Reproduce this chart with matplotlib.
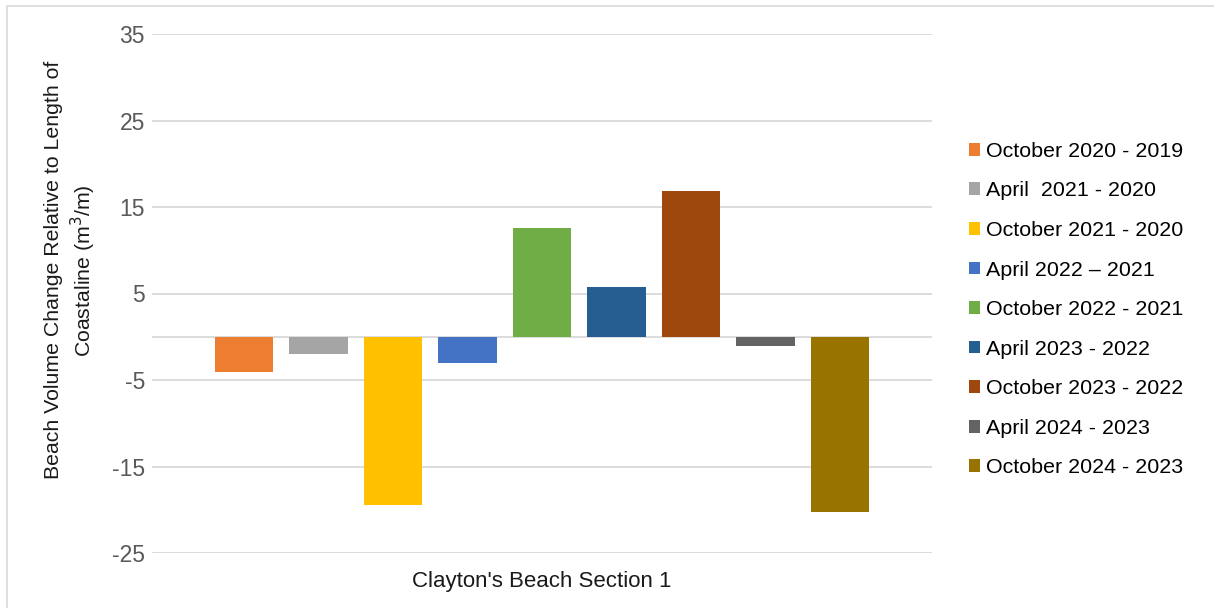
import matplotlib.pyplot as plt
from matplotlib.patches import Rectangle

plt.rcParams['font.family'] = ['Liberation Sans', 'DejaVu Sans']

# Beach volume change per survey interval (m3/m)
periods = [
    "October 2020 - 2019",
    "April  2021 - 2020",
    "October 2021 - 2020",
    "April 2022 \u2013 2021",
    "October 2022 - 2021",
    "April 2023 - 2022",
    "October 2023 - 2022",
    "April 2024 - 2023",
    "October 2024 - 2023",
]
volume_change = [-4.05, -1.95, -19.45, -3.0, 12.6, 5.7, 16.9, -1.1, -20.25]
colors = ["#ED7D31", "#A5A5A5", "#FFC000", "#4472C4", "#70AD47",
          "#255E91", "#9E480E", "#636363", "#997300"]
y_ticks = [-25, -15, -5, 5, 15, 25, 35]

fig = plt.figure(figsize=(12.14, 6.08), dpi=100)
ax = fig.add_axes([152 / 1214, 1 - 553 / 608, 780 / 1214, 519 / 608])

# Light frame around the chart area
fig.patches.append(Rectangle((6.5 / 1214, -0.05), 1.2, 1 - 5.5 / 608 + 0.05,
                             transform=fig.transFigure, fill=False,
                             edgecolor="#d9d9d9", linewidth=1.2))

# gridlines plus the zero axis line
for y in y_ticks + [0]:
    ax.axhline(y, color="#d9d9d9", linewidth=1.3, zorder=1)

for i, (label, val, c) in enumerate(zip(periods, volume_change, colors)):
    ax.bar(i, val, width=0.79, color=c, label=label, zorder=2)

ax.set_ylim(-25, 35)
ax.set_xlim(4 - 5.235, 4 + 5.235)
ax.set_yticks(y_ticks)
ax.set_yticklabels([str(t) for t in y_ticks], fontsize=16.5, color="#595959")
ax.tick_params(axis="y", length=0, pad=5)
ax.set_xticks([])
for s in ax.spines.values():
    s.set_visible(False)

ax.set_xlabel("Clayton's Beach Section 1", fontsize=16, color="#1a1a1a", labelpad=13)
ax.set_ylabel("Beach Volume Change Relative to Length of\nCoastaline (m$^3$/m)",
              fontsize=15.3, color="#1a1a1a", linespacing=1.25)
ax.yaxis.set_label_coords(-0.069, 0.545)

ax.legend(loc="center left", bbox_to_anchor=(1.036, 0.469), frameon=False,
          fontsize=15.4, handlelength=0.55, handleheight=0.55, handletextpad=0.25,
          labelspacing=0.96, borderaxespad=0)

fig.savefig("out.png", dpi=100)
